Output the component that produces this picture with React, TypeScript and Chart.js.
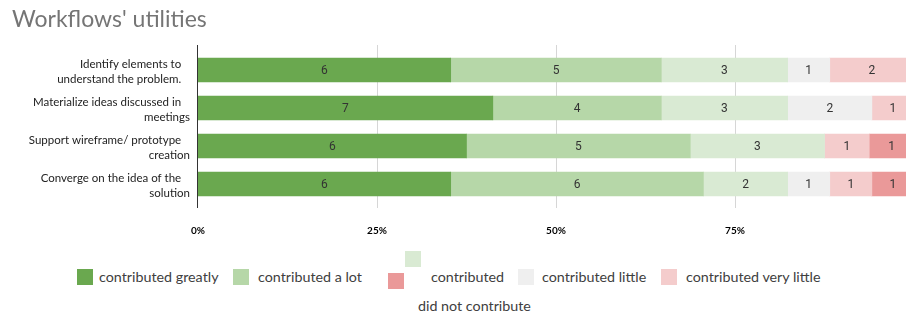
import React, { useEffect, useRef } from 'react';
import { Chart, registerables } from 'chart.js';

Chart.register(...registerables);

const categories: string[][] = [
  ['Identify elements to   ', 'understand the problem.   '],
  ['Materialize ideas discussed in   ', 'meetings'],
  ['Support wireframe/ prototype   ', 'creation'],
  ['Converge on the idea of the   ', 'solution'],
];

const seriesNames = [
  'contributed greatly',
  'contributed a lot',
  'contributed',
  'contributed little',
  'contributed very little',
  'did not contribute',
];
const seriesColors = ['#6aa84f', '#b6d7a8', '#d9ead3', '#efefef', '#f4cccc', '#ea9999'];

const contributedGreatly = [6, 7, 6, 6];
const contributedALot = [5, 4, 5, 6];
const contributedMid = [3, 3, 3, 2];
const contributedLittle = [1, 2, 0, 1];
const contributedVeryLittle = [2, 1, 1, 1];
const didNotContribute = [0, 0, 1, 1];

const xTickLabels = ['0%', '25%', '50%', '75%'];

const seriesValues = [
  contributedGreatly,
  contributedALot,
  contributedMid,
  contributedLittle,
  contributedVeryLittle,
  didNotContribute,
];

const legendLayout = [
  { bx: 77, by: 269, tx: 99, ty: 268 },
  { bx: 233, by: 269, tx: 258, ty: 268 },
  { bx: 405, by: 251, tx: 431, ty: 268 },
  { bx: 518, by: 269, tx: 542, ty: 268 },
  { bx: 661, by: 269, tx: 686, ty: 268 },
  { bx: 388, by: 273, tx: 418, ty: 297 },
];

const FONT = 'Lato, "Open Sans", sans-serif';
const CANVAS_W = 936;
const CANVAS_H = 245;

export default function App() {
  const canvasRef = useRef<HTMLCanvasElement | null>(null);

  useEffect(() => {
    const canvas = canvasRef.current;
    if (!canvas) return;
    const totals = categories.map((_, i) =>
      seriesValues.reduce((s, arr) => s + arr[i], 0)
    );

    const gridPlugin = {
      id: 'extGrid',
      beforeDatasetsDraw(chart: any) {
        const { ctx, chartArea, scales } = chart;
        const x = scales.x;
        ctx.save();
        ctx.strokeStyle = '#d6d6d6';
        ctx.lineWidth = 1;
        for (const v of [25, 50, 75]) {
          const px = Math.round(x.getPixelForValue(v)) + 0.5;
          ctx.beginPath();
          ctx.moveTo(px, chartArea.top - 6);
          ctx.lineTo(px, chartArea.bottom + 5);
          ctx.stroke();
        }
        ctx.restore();
      },
      afterDatasetsDraw(chart: any) {
        const { ctx, chartArea, scales } = chart;
        const x = scales.x;
        ctx.save();
        ctx.strokeStyle = '#333333';
        ctx.lineWidth = 1;
        const px = Math.round(x.getPixelForValue(0)) - 0.5;
        ctx.beginPath();
        ctx.moveTo(px, chartArea.top - 6);
        ctx.lineTo(px, chartArea.bottom + 5);
        ctx.stroke();
        ctx.font = '12px Roboto, sans-serif';
        ctx.fillStyle = '#333333';
        ctx.textAlign = 'center';
        ctx.textBaseline = 'middle';
        chart.data.datasets.forEach((ds: any, di: number) => {
          const meta = chart.getDatasetMeta(di);
          meta.data.forEach((el: any, i: number) => {
            const c = ds.counts[i];
            if (!c) return;
            const cx = (el.x + el.base) / 2;
            ctx.fillText(String(c), cx, el.y + 1);
          });
        });
        ctx.restore();
      },
    };

    const chart = new Chart(canvas, {
      type: 'bar',
      data: {
        labels: categories,
        datasets: seriesNames.map((name, si) => ({
          label: name,
          data: seriesValues[si].map((v, i) => (v / totals[i]) * 100),
          counts: seriesValues[si],
          backgroundColor: seriesColors[si],
          borderWidth: 0,
          barThickness: 24,
        })) as any,
      },
      options: {
        indexAxis: 'y',
        responsive: false,
        animation: false,
        layout: { padding: { left: 0, right: 0, top: 51, bottom: 0 } },
        plugins: {
          legend: { display: false },
          tooltip: { enabled: false },
          title: { display: false },
        },
        scales: {
          x: {
            stacked: true,
            min: 0,
            max: 100,
            grid: { display: false, drawTicks: false },
            border: { display: false },
            ticks: {
              stepSize: 25,
              padding: 22,
              autoSkip: false,
              maxRotation: 0,
              color: '#000000',
              font: { family: FONT, size: 10, weight: 'bold' },
              callback: (v: any) => xTickLabels[Math.round(Number(v) / 25)] ?? '',
            },
            afterFit: (s: any) => {
              s.height = 42;
            },
          },
          y: {
            stacked: true,
            grid: { display: false, drawTicks: false },
            border: { display: false },
            ticks: {
              padding: 8,
              labelOffset: 2,
              color: '#222222',
              font: { family: FONT, size: 11.5, lineHeight: 1.3 },
            },
            afterFit: (s: any) => {
              s.width = 198;
            },
          },
        },
      } as any,
      plugins: [gridPlugin],
    });

    let alive = true;
    if ((document as any).fonts) {
      Promise.all([
        (document as any).fonts.load('11px Lato'),
        (document as any).fonts.load('bold 10px Lato'),
        (document as any).fonts.load('12px Roboto'),
      ])
        .then(() => {
          if (alive) chart.update();
        })
        .catch(() => {});
    }

    return () => {
      alive = false;
      chart.destroy();
    };
  }, []);

  return (
    <div
      style={{
        position: 'fixed',
        left: 0,
        top: 0,
        width: 906,
        height: 316,
        overflow: 'hidden',
        background: '#ffffff',
      }}
    >
      <canvas
        ref={canvasRef}
        width={CANVAS_W}
        height={CANVAS_H}
        style={{ position: 'absolute', left: 0, top: 0, width: CANVAS_W, height: CANVAS_H }}
      />
      <div
        style={{
          position: 'absolute',
          left: 12,
          top: 4,
          fontFamily: FONT,
          fontSize: 23,
          lineHeight: 'normal',
          color: '#757575',
          whiteSpace: 'nowrap',
        }}
      >
        Workflows' utilities
      </div>
      {seriesNames.map((name, i) => (
        <React.Fragment key={name}>
          <div
            style={{
              position: 'absolute',
              left: legendLayout[i].bx,
              top: legendLayout[i].by,
              width: 16,
              height: 16,
              background: seriesColors[i],
            }}
          />
          <div
            style={{
              position: 'absolute',
              left: legendLayout[i].tx,
              top: legendLayout[i].ty,
              fontFamily: FONT,
              fontSize: 14.3,
              lineHeight: '18px',
              color: '#404040',
              whiteSpace: 'nowrap',
            }}
          >
            {name}
          </div>
        </React.Fragment>
      ))}
    </div>
  );
}
